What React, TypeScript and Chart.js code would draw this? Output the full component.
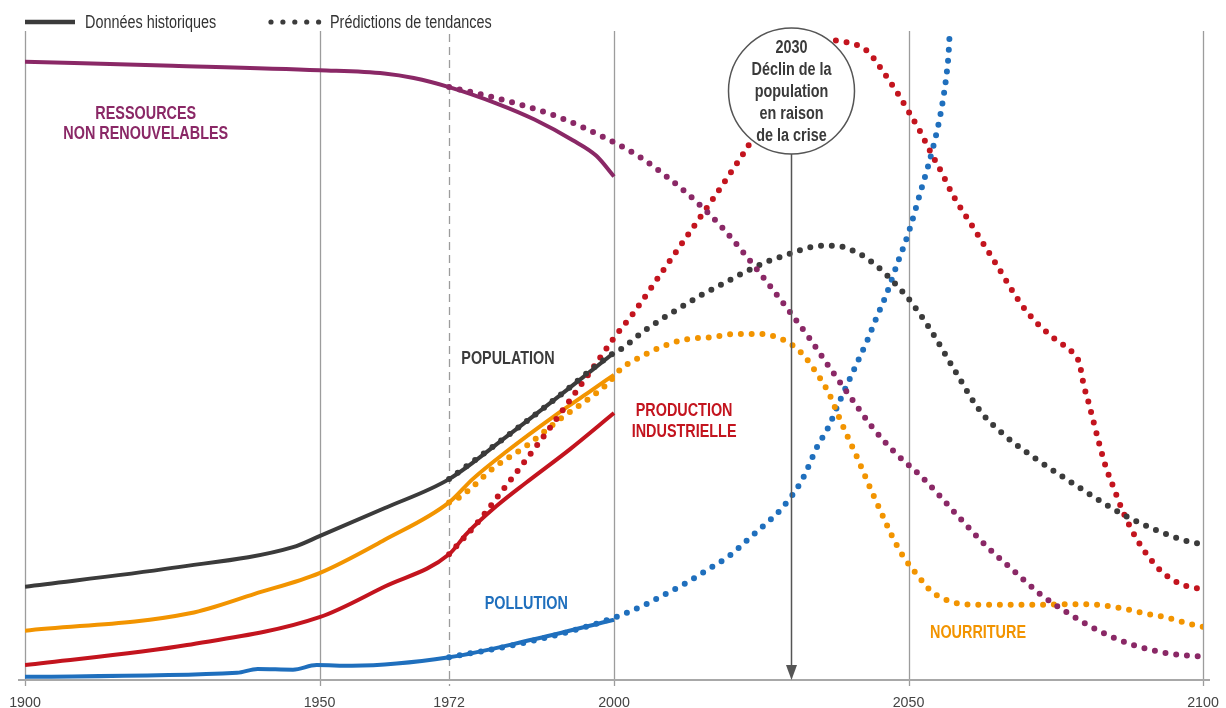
import React, { useEffect, useRef } from "react";
import { Chart, registerables } from "chart.js";

Chart.register(...registerables);

const FONT = "'Liberation Sans', Arial, Helvetica, sans-serif";

// Axis
const tickYears = [1900, 1950, 1972, 2000, 2050, 2100];
const gridYears = [1900, 1950, 2000, 2050, 2100];
const dashedYear = 1972;

// Ressources non renouvelables
const resHistYears = [1900, 1925, 1950, 1961, 1966, 1972, 1980, 1986.5, 1993, 1997, 2000];
const resHistValues = [95.4, 94.8, 94.1, 93.6, 92.9, 91.5, 89.0, 86.5, 83.3, 80.9, 77.7];
const resPredYears = [1972, 1980, 1990.5, 1999.3, 2004.4, 2009.2, 2014, 2018.3, 2022.2, 2025.9, 2029.6, 2033.3, 2036.7, 2040.2, 2043.7, 2047.7, 2052.2, 2055, 2059.1, 2063.3, 2067.8, 2072.3, 2077.3, 2082.5, 2088.2, 2094.1, 2100];
const resPredValues = [91.5, 89.8, 86.9, 83.3, 80.7, 77.5, 73.8, 69.9, 65.7, 61.5, 57.1, 52.6, 48.1, 43.6, 39.2, 35.1, 31.4, 28.7, 24.6, 20.6, 16.9, 13.3, 10.2, 7.5, 5.4, 4.1, 3.6];

// Population
const popHistYears = [1900, 1925, 1945.5, 1950, 1961, 1972, 1981.8, 1989.8, 2000];
const popHistValues = [14.4, 17.3, 20.5, 22.2, 26.5, 31.0, 37.6, 43.2, 50.5];
const popPredYears = [1972, 1981.8, 1989.8, 2000, 2001.6, 2004.7, 2008.1, 2011.5, 2015, 2018.6, 2022.1, 2025.8, 2029.6, 2033.4, 2035.4, 2037.5, 2041.2, 2044.6, 2047.6, 2050.3, 2053.7, 2057.9, 2062.1, 2066.4, 2071.2, 2076.3, 2081.4, 2086.5, 2092.1, 2097.8, 2100];
const popPredValues = [31.0, 37.6, 43.2, 50.5, 51.3, 53.6, 55.7, 57.6, 59.5, 61.2, 62.9, 64.5, 65.7, 66.8, 67.0, 67.0, 66.0, 63.9, 61.3, 58.5, 54.1, 47.7, 41.6, 37.7, 34.4, 31.3, 28.3, 25.5, 23.1, 21.3, 21.0];

// Production industrielle
const indHistYears = [1900, 1927.5, 1950, 1961, 1972, 1975, 1980, 1985, 1992.5, 2000];
const indHistValues = [2.3, 5.4, 9.7, 14.4, 19.4, 22.6, 26.8, 30.4, 35.6, 41.2];
const indPredYears = [1972, 1977.3, 1980, 1983.4, 1987, 1990, 1993, 1996, 2000, 2003.2, 2007.8, 2012.4, 2017, 2021.5, 2022.5, 2026, 2030, 2033, 2035, 2037.2, 2039.5, 2041.5, 2043.2, 2045.6, 2047.9, 2049.9, 2052, 2053.8, 2055.7, 2057.5, 2061, 2065, 2069.2, 2071.8, 2074.9, 2078, 2079, 2079.8, 2080.4, 2081.4, 2082.4, 2083.5, 2084.9, 2086.4, 2088.1, 2090.3, 2092.9, 2096.2, 2100];
const indPredValues = [19.4, 24.8, 28.0, 32.0, 36.3, 40.0, 43.8, 47.6, 52.8, 56.5, 62.5, 68.5, 74.5, 80.6, 82.0, 87.5, 93.0, 96.5, 98.0, 98.7, 98.4, 97.9, 96.9, 94.0, 90.9, 87.9, 84.6, 81.4, 78.2, 74.9, 69.8, 64.0, 57.9, 55.1, 52.6, 50.4, 48.9, 45.3, 43.4, 39.9, 36.4, 32.9, 29.5, 26.0, 22.8, 19.6, 16.8, 14.8, 14.0];

// Nourriture
const foodHistYears = [1900, 1928, 1939, 1950, 1961, 1972, 1976, 1981.8, 1989.8, 1995.7, 2000];
const foodHistValues = [7.6, 10.3, 13.3, 16.5, 21.6, 27.4, 31.0, 35.3, 40.7, 44.4, 47.1];
const foodPredYears = [1972, 1973.8, 1979.8, 1985.4, 1990.6, 1995.4, 1999, 2001.3, 2004.8, 2008.3, 2012.4, 2016.5, 2020.4, 2024.5, 2028.5, 2031.8, 2034.3, 2036.4, 2038, 2039.6, 2041.3, 2043.8, 2045.4, 2047.1, 2049.1, 2051.5, 2054, 2058, 2062, 2070, 2078, 2082, 2086, 2090, 2094, 2098, 2100];
const foodPredValues = [27.4, 28.2, 32.9, 36.3, 40.1, 43.2, 45.8, 48.1, 50.0, 51.5, 52.6, 52.9, 53.4, 53.4, 52.6, 50.5, 47.5, 44.4, 41.0, 37.7, 34.3, 29.0, 25.8, 22.4, 19.1, 16.2, 13.6, 11.9, 11.6, 11.6, 11.7, 11.6, 11.1, 10.3, 9.6, 8.6, 8.2];

// Pollution
const pollHistYears = [1900, 1936, 1939.5, 1945.5, 1949.5, 1955.5, 1972, 1986, 2000];
const pollHistValues = [0.5, 1.1, 1.7, 1.6, 2.3, 2.2, 3.5, 6.2, 9.3];
const pollPredYears = [1972, 1986, 2000, 2005.5, 2009, 2012.5, 2016, 2019.5, 2022.5, 2025.5, 2028.5, 2032, 2034.5, 2036.5, 2038, 2039.7, 2041.4, 2043.1, 2044.6, 2046.2, 2048.2, 2050, 2052.1, 2053.3, 2054.2, 2055.1, 2055.8, 2056.4, 2056.8, 2057];
const pollPredValues = [3.5, 6.0, 9.6, 11.7, 13.4, 15.1, 17.1, 19.1, 21.5, 23.9, 26.5, 31.0, 36.0, 39.2, 42.4, 45.8, 49.2, 52.6, 56.0, 59.4, 64.5, 69.0, 75.5, 79.2, 82.3, 85.8, 89.2, 93.0, 96.6, 100];

// Colours
const PURPLE = "#8a2866";
const BLACK = "#3b3b3b";
const RED = "#c3141e";
const ORANGE = "#f29400";
const BLUE = "#1f6fbd";

// Series labels (data coordinates of the text centre)
const seriesLabels = [
  { lines: ["RESSOURCES", "NON RENOUVELABLES"], x: 1920.5, y: 86.0, color: PURPLE },
  { lines: ["POPULATION"], x: 1982.0, y: 49.8, color: BLACK },
  { lines: ["PRODUCTION", "INDUSTRIELLE"], x: 2011.9, y: 40.1, color: RED },
  { lines: ["POLLUTION"], x: 1985.1, y: 12.0, color: BLUE },
  { lines: ["NOURRITURE"], x: 2061.8, y: 7.4, color: ORANGE },
];

// Callout
const calloutYear = 2030;
const calloutCenter = 90.9;
const calloutLines = ["2030", "Déclin de la", "population", "en raison", "de la crise"];

const legendItems = ["Données historiques", "Prédictions de tendances"];

const pts = (xs: number[], ys: number[]) => xs.map((x, i) => ({ x, y: ys[i] }));

const solid = (label: string, xs: number[], ys: number[], color: string) => ({
  label,
  data: pts(xs, ys),
  borderColor: color,
  backgroundColor: color,
  borderWidth: 4,
  pointRadius: 0,
  pointHoverRadius: 0,
  fill: false,
  cubicInterpolationMode: "monotone" as const,
  borderCapStyle: "butt" as const,
  borderJoinStyle: "round" as const,
});

const dotted = (label: string, xs: number[], ys: number[], color: string) => ({
  label,
  data: pts(xs, ys),
  borderColor: color,
  backgroundColor: color,
  borderWidth: 6,
  borderDash: [0, 10.8],
  borderCapStyle: "round" as const,
  pointRadius: 0,
  pointHoverRadius: 0,
  fill: false,
  cubicInterpolationMode: "monotone" as const,
});

function drawText(ctx: CanvasRenderingContext2D, text: string, x: number, y: number, font: string, sx: number, align: CanvasTextAlign) {
  ctx.save();
  ctx.translate(x, y);
  ctx.scale(sx, 1);
  ctx.font = font;
  ctx.textAlign = align;
  ctx.textBaseline = "alphabetic";
  ctx.fillText(text, 0, 0);
  ctx.restore();
}

const decorPlugin = {
  id: "decor",
  beforeDatasetsDraw(chart: any) {
    const { ctx, chartArea, scales } = chart;
    const xs = scales.x;
    ctx.save();
    ctx.strokeStyle = "#9c9c9c";
    ctx.lineWidth = 1.3;
    gridYears.forEach((yr) => {
      const px = Math.round(xs.getPixelForValue(yr)) + 0.5;
      ctx.beginPath();
      ctx.moveTo(px, chartArea.top - 1);
      ctx.lineTo(px, chartArea.bottom + 6);
      ctx.stroke();
    });
    const dx = Math.round(xs.getPixelForValue(dashedYear)) + 0.5;
    ctx.setLineDash([8, 5]);
    ctx.beginPath();
    ctx.moveTo(dx, chartArea.top + 2);
    ctx.lineTo(dx, chartArea.bottom + 6);
    ctx.stroke();
    ctx.setLineDash([]);
    // baseline
    ctx.strokeStyle = "#a8a8a8";
    ctx.lineWidth = 2;
    ctx.beginPath();
    ctx.moveTo(chartArea.left - 7, chartArea.bottom);
    ctx.lineTo(chartArea.right + 7, chartArea.bottom);
    ctx.stroke();
    // tick labels
    ctx.fillStyle = "#444";
    tickYears.forEach((yr) => {
      drawText(ctx, String(yr), xs.getPixelForValue(yr), chartArea.bottom + 27, `15.5px ${FONT}`, 0.92, "center");
    });
    ctx.restore();
  },
  afterDatasetsDraw(chart: any) {
    const { ctx, chartArea, scales } = chart;
    const xs = scales.x;
    const ys = scales.y;
    ctx.save();
    // series labels
    const lblFont = `bold 18px ${FONT}`;
    seriesLabels.forEach((l) => {
      const cx = xs.getPixelForValue(l.x);
      const cy = ys.getPixelForValue(l.y);
      ctx.fillStyle = l.color;
      const lh = 20.5;
      l.lines.forEach((t, i) => {
        drawText(ctx, t, cx, cy + (i - (l.lines.length - 1) / 2) * lh + 6.4, lblFont, 0.8, "center");
      });
    });
    // callout
    const cx = Math.round(xs.getPixelForValue(calloutYear)) + 0.5;
    const cy = ys.getPixelForValue(calloutCenter);
    const r = 63;
    ctx.strokeStyle = "#555";
    ctx.fillStyle = "#555";
    ctx.lineWidth = 1.5;
    ctx.beginPath();
    ctx.moveTo(cx, cy + r);
    ctx.lineTo(cx, chartArea.bottom - 8);
    ctx.stroke();
    ctx.beginPath();
    ctx.moveTo(cx - 5.5, chartArea.bottom - 15);
    ctx.lineTo(cx + 5.5, chartArea.bottom - 15);
    ctx.lineTo(cx, chartArea.bottom);
    ctx.closePath();
    ctx.fill();
    ctx.beginPath();
    ctx.arc(cx, cy, r, 0, Math.PI * 2);
    ctx.fillStyle = "#ffffff";
    ctx.fill();
    ctx.stroke();
    ctx.fillStyle = "#3a3a3a";
    const lh = 22;
    calloutLines.forEach((t, i) => {
      drawText(ctx, t, cx, cy + (i - (calloutLines.length - 1) / 2) * lh + 6.4, `bold 18px ${FONT}`, 0.8, "center");
    });
    ctx.restore();
  },
  afterDraw(chart: any) {
    const { ctx } = chart;
    ctx.save();
    const y = 22;
    ctx.strokeStyle = BLACK;
    ctx.lineWidth = 4.5;
    ctx.beginPath();
    ctx.moveTo(25, y);
    ctx.lineTo(75, y);
    ctx.stroke();
    ctx.fillStyle = BLACK;
    for (let i = 0; i < 5; i++) {
      ctx.beginPath();
      ctx.arc(271 + i * 11.9, y, 2.6, 0, Math.PI * 2);
      ctx.fill();
    }
    ctx.fillStyle = "#333";
    drawText(ctx, legendItems[0], 85, 28, `18px ${FONT}`, 0.8, "left");
    drawText(ctx, legendItems[1], 330, 28, `18px ${FONT}`, 0.8, "left");
    ctx.restore();
  },
};

export default function App() {
  const ref = useRef<HTMLCanvasElement | null>(null);
  useEffect(() => {
    if (!ref.current) return;
    const chart = new Chart(ref.current, {
      type: "line",
      data: {
        datasets: [
          dotted("Ressources (prédiction)", resPredYears, resPredValues, PURPLE),
          dotted("Population (prédiction)", popPredYears, popPredValues, BLACK),
          dotted("Production industrielle (prédiction)", indPredYears, indPredValues, RED),
          dotted("Nourriture (prédiction)", foodPredYears, foodPredValues, ORANGE),
          dotted("Pollution (prédiction)", pollPredYears, pollPredValues, BLUE),
          solid("Ressources", resHistYears, resHistValues, PURPLE),
          solid("Population", popHistYears, popHistValues, BLACK),
          solid("Production industrielle", indHistYears, indHistValues, RED),
          solid("Nourriture", foodHistYears, foodHistValues, ORANGE),
          solid("Pollution", pollHistYears, pollHistValues, BLUE),
        ] as any,
      },
      options: {
        animation: false,
        responsive: false,
        devicePixelRatio: 1,
        layout: { padding: { left: 25, right: 23, top: 32, bottom: 28 } },
        plugins: {
          legend: { display: false },
          tooltip: { enabled: false },
        },
        events: [],
        scales: {
          x: {
            type: "linear",
            min: 1900,
            max: 2100,
            display: false,
          },
          y: {
            type: "linear",
            min: 0,
            max: 100,
            display: false,
          },
        },
      },
      plugins: [decorPlugin],
    });
    return () => chart.destroy();
  }, []);
  return (
    <div style={{ position: "absolute", left: 0, top: 0, width: 1226, height: 708, background: "#fff" }}>
      <canvas ref={ref} width={1226} height={708} style={{ width: 1226, height: 708, display: "block" }} />
    </div>
  );
}
